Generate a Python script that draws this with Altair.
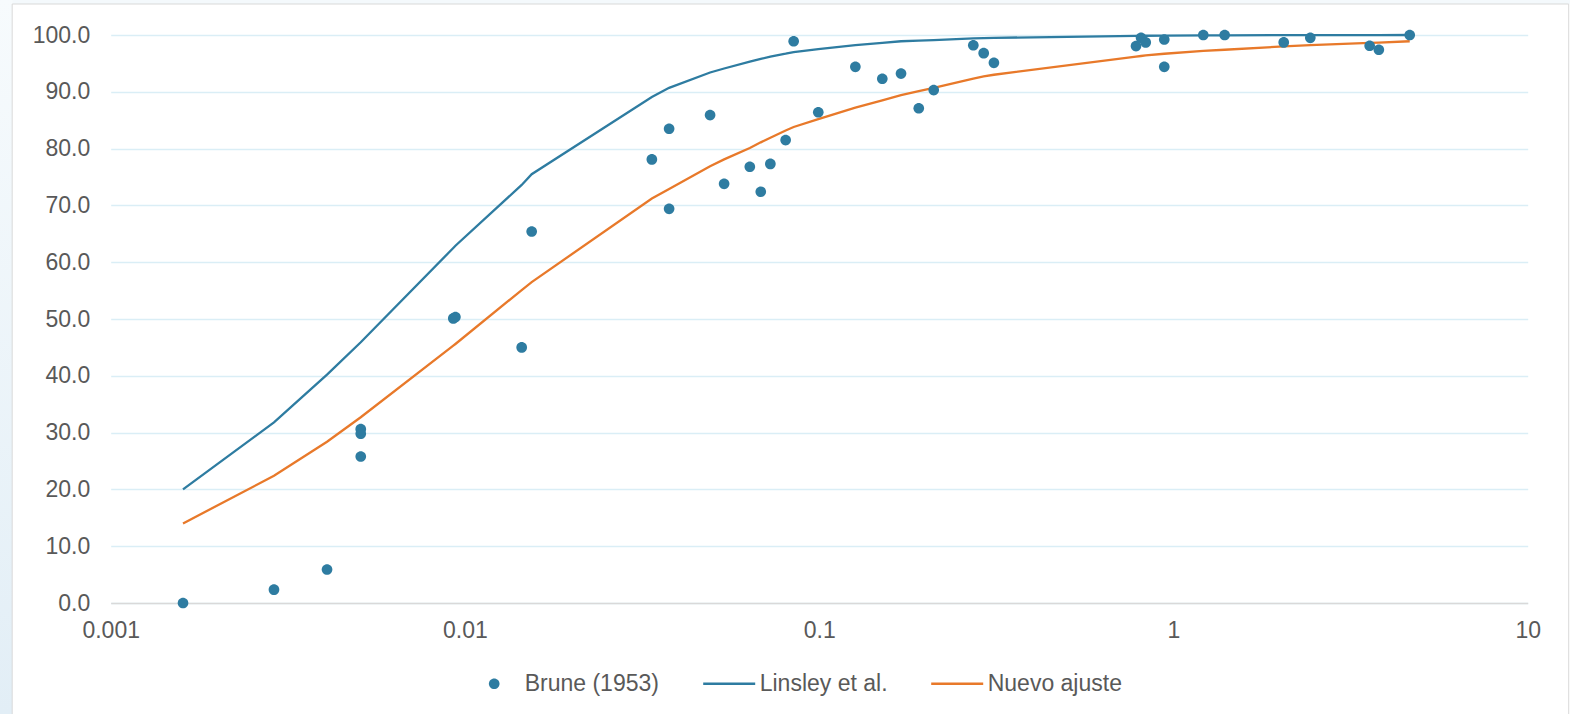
import altair as alt
import pandas as pd

# ---- data ----
brune_x = [0.0016, 0.00289, 0.00408, 0.00508, 0.00508, 0.00508, 0.00927, 0.0094, 0.01446, 0.01543,
           0.0337, 0.0377, 0.0377, 0.0492, 0.0539, 0.0637, 0.0684, 0.0728, 0.0804, 0.0847, 0.0994,
           0.1265, 0.1507, 0.1702, 0.191, 0.2105, 0.2723, 0.2913, 0.3113,
           0.784, 0.810, 0.835, 0.942, 0.942, 1.214, 1.395, 2.048, 2.434, 3.58, 3.80, 4.645]
brune_y = [0.0, 2.35, 5.9, 30.6, 29.8, 25.8, 50.1, 50.35, 45.0, 65.4,
           78.1, 83.5, 69.4, 85.9, 73.8, 76.8, 72.4, 77.3, 81.5, 98.9, 86.4,
           94.4, 92.3, 93.2, 87.1, 90.3, 98.2, 96.8, 95.1,
           98.05, 99.5, 98.7, 99.2, 94.4, 100.0, 100.0, 98.7, 99.5, 98.1, 97.4, 100.0]

curve_x = [0.0016, 0.00289, 0.00408, 0.00508, 0.00927, 0.0094, 0.01446, 0.01543, 0.0337, 0.0377,
           0.0492, 0.0539, 0.0637, 0.0684, 0.0728, 0.0804, 0.0847, 0.0994, 0.1265, 0.1507,
           0.1702, 0.191, 0.2105, 0.2723, 0.2913, 0.3113, 0.784, 0.810, 0.835, 0.942,
           1.214, 1.395, 2.048, 2.434, 3.58, 3.80, 4.645]
linsley_y = [20.0, 31.8, 40.2, 45.9, 62.5, 62.9, 73.6, 75.5, 89.1, 90.7,
             93.4, 94.1, 95.3, 95.8, 96.2, 96.7, 97.0, 97.5, 98.2, 98.6,
             98.9, 99.0, 99.1, 99.4, 99.45, 99.5, 99.85, 99.86, 99.87, 99.9,
             99.94, 99.95, 99.97, 99.98, 99.99, 99.99, 100.0]
nuevo_y = [14.0, 22.4, 28.4, 32.7, 45.3, 45.6, 55.1, 56.5, 71.2, 72.9,
           76.9, 78.1, 80.1, 81.1, 81.9, 83.2, 83.8, 85.2, 87.2, 88.5,
           89.4, 90.1, 90.7, 92.3, 92.7, 93.0, 96.2, 96.3, 96.4, 96.7,
           97.2, 97.4, 98.0, 98.2, 98.6, 98.65, 98.9]

series_names = ["Brune (1953)", "Linsley et al.", "Nuevo ajuste"]
x_ticks = [0.001, 0.01, 0.1, 1, 10]
y_ticks = [0, 10, 20, 30, 40, 50, 60, 70, 80, 90, 100]

BLUE = "#2e7ca1"
ORANGE = "#e8792a"
TXT = "#595959"
FONT = "Liberation Sans"
W, H = 1417, 568

# symbols are drawn at a common size (52 px box); the dot is a small circle path inside it
SYM_SIZE = 2704
r = 0.205
DOT = f"M{-r},0A{r},{r} 0 1,0 {r},0A{r},{r} 0 1,0 {-r},0Z"

pts = pd.DataFrame({"x": brune_x, "y": brune_y, "serie": series_names[0]})
lines = pd.concat([
    pd.DataFrame({"x": curve_x, "y": linsley_y, "serie": series_names[1]}),
    pd.DataFrame({"x": curve_x, "y": nuevo_y, "serie": series_names[2]}),
])

xs = alt.Scale(type="log", domain=[0.001, 10], nice=False)
ys = alt.Scale(domain=[0, 100], nice=False, zero=False)

x_axis = alt.Axis(values=x_ticks, format="~g", title=None, grid=False, ticks=False,
                  domain=True, domainColor="#d9d9d9", domainWidth=1.5,
                  labelFontSize=23, labelColor=TXT, labelFont=FONT, labelPadding=16,
                  labelFlush=False)
y_axis = alt.Axis(values=y_ticks, format=".1f", title=None, grid=True, gridColor="#daeef6",
                  gridWidth=1.3, ticks=False, domain=False,
                  labelFontSize=23, labelColor=TXT, labelFont=FONT, labelPadding=21)

stroke_scale = alt.Scale(domain=series_names, range=["transparent", BLUE, ORANGE])
fill_scale = alt.Scale(domain=series_names, range=[BLUE, BLUE, ORANGE])
shape_scale = alt.Scale(domain=series_names, range=[DOT, "stroke", "stroke"])

legend = alt.Legend(title=None, orient="none", direction="horizontal", legendX=356, legendY=621,
                    labelFontSize=23, labelColor=TXT, labelFont=FONT, symbolStrokeWidth=2.5,
                    symbolSize=SYM_SIZE, labelOffset=3, columnPadding=38, padding=0,
                    symbolOpacity=1)

X = alt.X("x:Q", scale=xs, axis=x_axis)
Y = alt.Y("y:Q", scale=ys, axis=y_axis)

point_layer = alt.Chart(pts).mark_point(filled=True, opacity=1, size=SYM_SIZE).encode(
    x=X, y=Y,
    fill=alt.Fill("serie:N", scale=fill_scale, legend=legend),
    stroke=alt.Stroke("serie:N", scale=stroke_scale, legend=legend),
    shape=alt.Shape("serie:N", scale=shape_scale, legend=legend),
)

line_layer = alt.Chart(lines).mark_line(strokeWidth=2.3).encode(
    x=X, y=Y,
    stroke=alt.Stroke("serie:N", scale=stroke_scale, legend=legend),
)

# decorative frame (left/top tinted margin, panel border)
deco = pd.DataFrame({"k": [0]})
grad = alt.Gradient(gradient="linear",
                    stops=[alt.GradientStop(color="#f7fbfd", offset=0),
                           alt.GradientStop(color="#e2eef6", offset=1)],
                    x1=0, x2=0, y1=0, y2=1)
left_strip = alt.Chart(deco).mark_rect(fill=grad).encode(
    x=alt.value(-111), x2=alt.value(-98.5), y=alt.value(-35), y2=alt.value(679))
top_strip = alt.Chart(deco).mark_rect(fill="#f4f9fc").encode(
    x=alt.value(-98.5), x2=alt.value(1460), y=alt.value(-35), y2=alt.value(-31))
panel = alt.Chart(deco).mark_rect(fill="transparent", stroke="#d9d9d9", strokeWidth=1).encode(
    x=alt.value(-98.5), x2=alt.value(1458), y=alt.value(-31), y2=alt.value(690))

chart = alt.layer(left_strip, top_strip, panel, line_layer, point_layer).properties(
    width=W, height=H,
    autosize=alt.AutoSizeParams(type="none"),
    padding={"left": 110.7, "top": 35, "right": 42.3, "bottom": 111},
    background="white",
).configure_view(stroke=None)

chart.save("out.html", embed_options={"renderer": "svg", "actions": False})
